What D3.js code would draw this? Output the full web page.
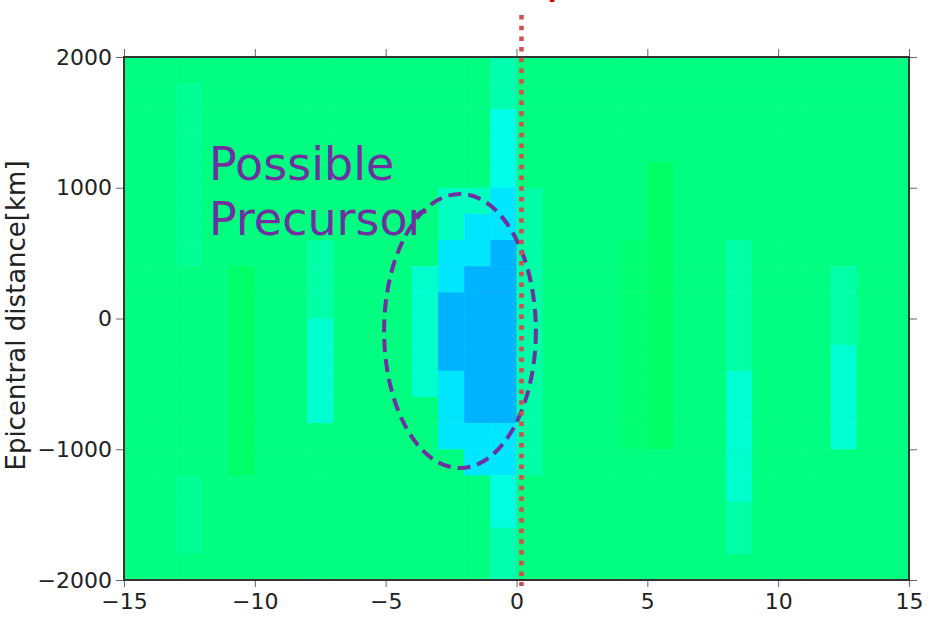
<!DOCTYPE html>
<html>
<head>
<meta charset="utf-8">
<script src="https://cdn.jsdelivr.net/npm/d3@7"></script>
<style>
  body { margin: 0; background: #fff; }
  svg { display: block; font-family: 'DejaVu Sans', Verdana, sans-serif; }
  .axis text { font-family: 'DejaVu Sans', Verdana, sans-serif; font-size: 22px; fill: #222; }
  .axis line { stroke: #666; }
  .axis path { stroke: none; }
</style>
</head>
<body>
<svg id="chart"></svg>
<script>
// day relative to the event (left edge of each 1-day bin)
const days = [-15, -14, -13, -12, -11, -10, -9, -8, -7, -6, -5, -4, -3, -2, -1,
              0, 1, 2, 3, 4, 5, 6, 7, 8, 9, 10, 11, 12, 13, 14]
// epicentral distance (bottom edge of each 200 km bin), top row first
const distances = [1800, 1600, 1400, 1200, 1000, 800, 600, 400, 200, 0,
                   -200, -400, -600, -800, -1000, -1200, -1400, -1600, -1800, -2000]
// anomaly value per cell, rows follow `distances`, columns follow `days`
const anomaly = [
  [0,0,0,0,0,0,0,0,0,0,0,0,0,0,.37,0,0,0,0,0,0,0,0,0,0,0,0,0,0,0],
  [0,0,.15,0,0,0,0,0,0,0,0,0,0,0,.37,0,0,0,0,0,0,0,0,0,0,0,0,0,0,0],
  [0,0,.15,0,0,0,0,0,0,0,0,0,0,0,.82,0,0,0,0,0,0,0,0,0,0,0,0,0,0,0],
  [0,0,.15,0,0,0,0,0,0,0,0,0,0,0,.82,0,0,0,0,0,0,0,0,0,0,0,0,0,0,0],
  [0,0,.15,0,0,0,0,0,0,0,0,0,0,0,.82,0,0,0,0,0,-.22,0,0,0,0,0,0,0,0,0],
  [0,0,.15,0,0,0,0,0,0,0,0,0,.5,.5,1.2,.3,0,0,0,0,-.22,0,0,0,0,0,0,0,0,0],
  [0,0,.15,0,0,0,0,0,0,0,0,0,.5,1.2,1.2,.3,0,0,0,0,-.22,0,0,0,0,0,0,0,0,0],
  [0,0,.15,0,0,0,0,.3,0,0,0,0,1.2,1.2,1.6,.3,0,0,0,-.1,-.22,0,0,.3,0,0,0,0,0,0],
  [0,0,0,0,-.2,0,0,.3,0,0,0,.6,1.2,1.6,1.6,.3,0,0,0,-.1,-.22,0,0,.3,0,0,0,.3,0,0],
  [0,0,0,0,-.2,0,0,.3,0,0,0,.6,1.6,1.6,1.6,.3,0,0,0,-.1,-.22,0,0,.3,0,0,0,.3,0,0],
  [0,0,0,0,-.2,0,0,.65,0,0,0,.6,1.6,1.6,1.6,.3,0,0,0,-.1,-.22,0,0,.3,0,0,0,.3,0,0],
  [0,0,0,0,-.2,0,0,.65,0,0,0,.6,1.6,1.6,1.6,.3,0,0,0,-.1,-.22,0,0,.3,0,0,0,.65,0,0],
  [0,0,0,0,-.2,0,0,.65,0,0,0,.6,1.2,1.6,1.6,.3,0,0,0,-.1,-.22,0,0,.65,0,0,0,.65,0,0],
  [0,0,0,0,-.2,0,0,.65,0,0,0,0,1.2,1.6,1.6,.3,0,0,0,-.1,-.22,0,0,.65,0,0,0,.65,0,0],
  [0,0,0,0,-.2,0,0,0,0,0,0,0,1.2,1.2,1.2,.3,0,0,0,-.1,-.22,0,0,.65,0,0,0,.65,0,0],
  [0,0,0,0,-.2,0,0,0,0,0,0,0,0,1.2,1.2,.3,0,0,0,0,0,0,0,.6,0,0,0,0,0,0],
  [0,0,.15,0,0,0,0,0,0,0,0,0,0,0,.75,0,0,0,0,0,0,0,0,.6,0,0,0,0,0,0],
  [0,0,.15,0,0,0,0,0,0,0,0,0,0,0,.75,0,0,0,0,0,0,0,0,.3,0,0,0,0,0,0],
  [0,0,.15,0,0,0,0,0,0,0,0,0,0,0,.37,0,0,0,0,0,0,0,0,.3,0,0,0,0,0,0],
  [0,0,0,0,0,0,0,0,0,0,0,0,0,0,.37,0,0,0,0,0,0,0,0,0,0,0,0,0,0,0]
]
const xTicks = [-15, -10, -5, 0, 5, 10, 15]
const yTicks = [-2000, -1000, 0, 1000, 2000]
const colorStops = [-1, 0, 1, 2]
const colorRange = ['#00ff00', '#00ff80', '#00ffff', '#0080ff']
// annotations
const eventDay = 0.19
const precursor = {day: -2.16, dist: -96, rDay: 2.9, rDist: 1048}

class Heatmap {
    constructor(_config) {
        this.config = {
            parentElement: _config.parentElement,
            containerWidth: _config.containerWidth || 930,
            containerHeight: _config.containerHeight || 617,
            margin: {top: 57, right: 21, bottom: 37, left: 124}
        }
        this.initVis()
    }

    initVis() {
        let vis = this
        vis.width = vis.config.containerWidth - vis.config.margin.left - vis.config.margin.right
        vis.height = vis.config.containerHeight - vis.config.margin.top - vis.config.margin.bottom

        vis.svg = d3.select(vis.config.parentElement)
            .attr('width', vis.config.containerWidth)
            .attr('height', vis.config.containerHeight)
        vis.chart = vis.svg.append('g')
            .attr('transform', `translate(${vis.config.margin.left},${vis.config.margin.top})`)

        vis.xScale = d3.scaleLinear().domain([-15, 15]).range([0, vis.width])
        vis.yScale = d3.scaleLinear().domain([-2000, 2000]).range([vis.height, 0])
        vis.colorScale = d3.scaleLinear().domain(colorStops).range(colorRange).clamp(true)
    }

    renderVis() {
        let vis = this
        let cells = []
        distances.forEach((d, r) => days.forEach((t, c) => cells.push({day: t, dist: d, v: anomaly[r][c]})))

        vis.chart.selectAll('.cell')
            .data(cells)
            .join('rect')
                .attr('class', 'cell')
                .attr('x', d => vis.xScale(d.day))
                .attr('y', d => vis.yScale(d.dist + 200))
                .attr('width', d => vis.xScale(d.day + 1) - vis.xScale(d.day) + 0.5)
                .attr('height', d => vis.yScale(d.dist) - vis.yScale(d.dist + 200) + 0.5)
                .attr('fill', d => vis.colorScale(d.v))

        // axes on all four sides, labels only left and bottom
        let fmt = d3.format('d')
        vis.chart.append('g').attr('class', 'axis')
            .attr('transform', `translate(0,${vis.height})`)
            .call(d3.axisBottom(vis.xScale).tickValues(xTicks).tickFormat(fmt).tickSize(7).tickPadding(6).tickSizeOuter(0))
        vis.chart.append('g').attr('class', 'axis')
            .call(d3.axisTop(vis.xScale).tickValues(xTicks).tickSize(8).tickFormat('').tickSizeOuter(0))
        vis.chart.append('g').attr('class', 'axis')
            .call(d3.axisLeft(vis.yScale).tickValues(yTicks).tickFormat(fmt).tickSize(8).tickPadding(4).tickSizeOuter(0))
        vis.chart.append('g').attr('class', 'axis')
            .attr('transform', `translate(${vis.width},0)`)
            .call(d3.axisRight(vis.yScale).tickValues(yTicks).tickSize(8).tickFormat('').tickSizeOuter(0))

        vis.chart.append('rect')
            .attr('width', vis.width).attr('height', vis.height)
            .attr('fill', 'none').attr('stroke', '#333').attr('stroke-width', 2)

        vis.svg.append('text')
            .attr('transform', `translate(25,${vis.config.margin.top + vis.height / 2 - 3}) rotate(-90)`)
            .attr('text-anchor', 'middle')
            .attr('font-size', 26).attr('fill', '#222')
            .text('Epicentral distance[km]')

        // precursor annotation
        vis.chart.append('ellipse')
            .attr('cx', vis.xScale(precursor.day))
            .attr('cy', vis.yScale(precursor.dist))
            .attr('rx', vis.xScale(precursor.rDay) - vis.xScale(0))
            .attr('ry', vis.yScale(0) - vis.yScale(precursor.rDist))
            .attr('fill', 'none').attr('stroke', '#7030a0')
            .attr('stroke-width', 4).attr('stroke-dasharray', '13 7')

        let label = vis.chart.append('text')
            .attr('fill', '#7030a0').attr('font-size', 46)
        label.append('tspan').attr('x', 85).attr('y', 123).text('Possible')
        label.append('tspan').attr('x', 85).attr('y', 178).text('Precursor')

        // event day marker
        vis.chart.append('line')
            .attr('x1', vis.xScale(eventDay)).attr('x2', vis.xScale(eventDay))
            .attr('y1', -42).attr('y2', vis.height + 6)
            .attr('stroke', '#cc5050').attr('stroke-width', 4.5)
            .attr('stroke-dasharray', '4.5 6.2')

        // event label sits above the frame, only its descender shows
        vis.svg.append('text')
            .attr('x', 459).attr('y', -4)
            .attr('fill', '#cc0000').attr('font-size', 26).attr('font-weight', 'bold')
            .text('Earthquake')
    }
}

let chart = new Heatmap({parentElement: '#chart'})
chart.renderVis()
</script>
</body>
</html>
